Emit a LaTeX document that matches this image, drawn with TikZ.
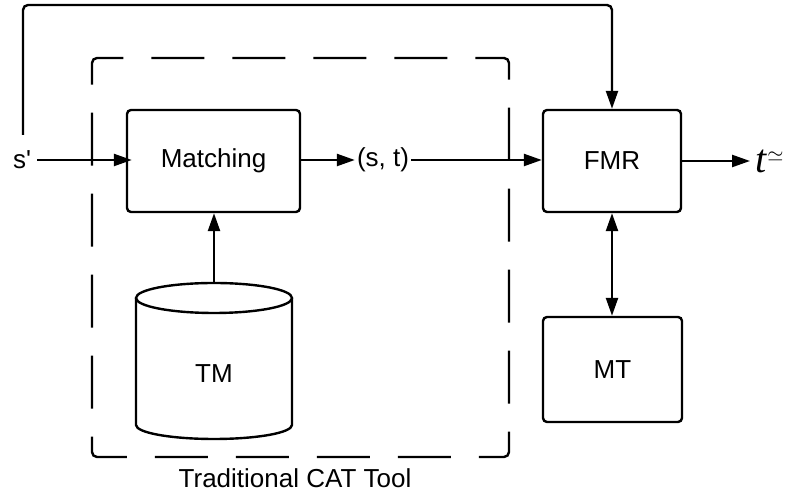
\documentclass[tikz,border=0pt]{standalone}
\usepackage{fontspec}
\setmainfont{Liberation Sans}
\newfontfamily\serifit{Liberation Serif}
\usetikzlibrary{arrows.meta}
\begin{document}
\begin{tikzpicture}[x=1pt,y=1pt,
  lw/.style={line width=2.4pt},
  arr/.style={lw,-{Triangle[length=18pt,width=12pt]}},
  dblarr/.style={lw,{Triangle[length=18pt,width=12pt]}-{Triangle[length=18pt,width=12pt]}},
  box/.style={draw,lw,rounded corners=4pt,font=\fontsize{26}{30}\selectfont,inner sep=0pt},
  lbl/.style={font=\fontsize{26}{30}\selectfont,inner sep=2pt}]
\useasboundingbox (0,0) rectangle (787,494);
% dashed group
\draw[lw,dash pattern=on 53pt off 28pt,rounded corners=5pt]
  (92,407) |- (509,436) |- (92,37) -- cycle;
\node[lbl] (cat) at (295,16) {Traditional CAT Tool};
% boxes
\node[box,minimum width=173pt,minimum height=102pt] (match) at (213.5,333) {Matching};
\node[box,minimum width=138pt,minimum height=102pt] (fmr) at (612,333) {FMR};
\node[box,minimum width=139pt,minimum height=105pt] (mt) at (612.5,124.5) {MT};
% cylinder TM
\draw[lw,fill=white] (136,196) -- (136,69) arc (180:360:78pt and 14pt) -- (292,196);
\draw[lw,fill=white] (214,196) ellipse (78pt and 15pt);
\node[lbl] (tm) at (214,120) {TM};
\coordinate (tmtop) at (214,211);
% labels
\node[lbl,inner sep=0pt] (sp) at (22,334) {s\textquotesingle};
\node[lbl] (st) at (383,334) {(s, t)};
\node[inner sep=0pt,anchor=west] (tt) at (755,333) {\fontsize{40}{44}\selectfont\serifit\itshape t\kern1pt\raisebox{11pt}{\fontsize{22}{24}\selectfont$\simeq$}};
% connectors
\draw[arr] ([xshift=6pt]sp.east) -- ([xshift=6pt]sp.east -| match.west);
\draw[arr] (match.east |- st.west) -- (st.west);
\draw[arr] (st.east) -- (st.east -| fmr.west);
\draw[arr] (fmr.east |- tt.west) -- ([xshift=-5pt]tt.west);
\draw[arr] (tmtop) -- (tmtop |- match.south);
\draw[dblarr] (fmr.south) -- (fmr.south |- mt.north);
\draw[arr,rounded corners=5pt] (23,359) |- (612,489) -- (fmr.north);
\end{tikzpicture}
\end{document}
